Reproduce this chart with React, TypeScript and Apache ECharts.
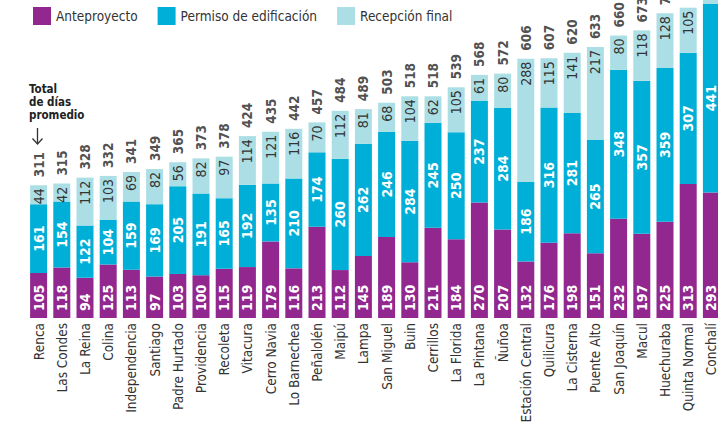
import React, { useEffect, useRef } from "react";
import * as echarts from "echarts";

const categories = [
  "Renca", "Las Condes", "La Reina", "Colina", "Independencia", "Santiago",
  "Padre Hurtado", "Providencia", "Recoleta", "Vitacura", "Cerro Navia",
  "Lo Barnechea", "Peñalolén", "Maipú", "Lampa", "San Miguel", "Buin",
  "Cerrillos", "La Florida", "La Pintana", "Ñuñoa", "Estación Central",
  "Quilicura", "La Cisterna", "Puente Alto", "San Joaquín", "Macul",
  "Huechuraba", "Quinta Normal", "Conchalí",
];
const anteproyecto = [105, 118, 94, 125, 113, 97, 103, 100, 115, 119, 179, 116, 213, 112, 145, 189, 130, 211, 184, 270, 207, 132, 176, 198, 151, 232, 197, 225, 313, 293];
const permiso = [161, 154, 122, 104, 159, 169, 205, 191, 165, 192, 135, 210, 174, 260, 262, 246, 284, 245, 250, 237, 284, 186, 316, 281, 265, 348, 357, 359, 307, 441];
const recepcion = [44, 42, 112, 103, 69, 82, 56, 82, 97, 114, 121, 116, 70, 112, 81, 68, 104, 62, 105, 61, 80, 288, 115, 141, 217, 80, 118, 128, 105, 90];
const totals = [311, 315, 328, 332, 341, 349, 365, 373, 378, 424, 435, 442, 457, 484, 489, 503, 518, 518, 539, 568, 572, 606, 607, 620, 633, 660, 673, 712, 725, 824];

const FONT = "'Liberation Sans Narrow', 'DejaVu Sans Condensed', 'Roboto', sans-serif";
const PURPLE = "#92278f";
const BLUE = "#00afd7";
const LIGHT = "#acdfe5";

export default function App() {
  const ref = useRef<HTMLDivElement>(null);
  useEffect(() => {
    if (!ref.current) return;
    const chart = echarts.init(ref.current, undefined, { renderer: "svg" });
    const stackTops = categories.map((_, i) => anteproyecto[i] + permiso[i] + recepcion[i]);
    chart.setOption({
      animation: false,
      textStyle: { fontFamily: FONT },
      legend: {
        left: 33,
        top: 7,
        padding: 0,
        itemWidth: 18,
        itemHeight: 18,
        itemGap: 20,
        icon: "rect",
        textStyle: { fontFamily: FONT, fontSize: 13.5, color: "#333" },
        data: ["Anteproyecto", "Permiso de edificación", "Recepción final"],
      },
      grid: { left: 27, top: 0, width: 696, height: 318, outerBoundsMode: "none", containLabel: false },
      xAxis: {
        type: "category",
        data: categories,
        axisLine: { show: false },
        axisTick: { show: false },
        axisLabel: {
          interval: 0,
          rotate: 90,
          margin: 5,
          fontFamily: FONT,
          fontSize: 13.5,
          color: "#333",
        },
      },
      yAxis: { type: "value", min: 0, max: 743, show: false, splitLine: { show: false } },
      graphic: [
        {
          type: "text",
          left: 29,
          top: 82,
          style: {
            text: "Total\nde días\npromedio",
            font: `bold 11.5px ${FONT}`,
            lineHeight: 13,
            fill: "#222",
          },
        },
        { type: "line", shape: { x1: 37.5, y1: 128, x2: 37.5, y2: 144 }, style: { stroke: "#333", lineWidth: 1.3 } },
        { type: "polyline", shape: { points: [[32.5, 138.5], [37.5, 144], [42.5, 138.5]] }, style: { stroke: "#333", lineWidth: 1.3, fill: "none" } },
      ],
      series: [
        {
          name: "Anteproyecto",
          type: "bar",
          stack: "t",
          barWidth: 17,
          clip: false,
          data: anteproyecto,
          itemStyle: { color: PURPLE },
          label: {
            show: true,
            position: "insideBottom",
            distance: 7,
            rotate: 90,
            align: "left",
            verticalAlign: "middle",
            color: "#fff",
            fontWeight: "bold",
            fontSize: 14,
            fontFamily: FONT,
          },
        },
        {
          name: "Permiso de edificación",
          type: "bar",
          stack: "t",
          barWidth: 17,
          clip: false,
          data: permiso,
          itemStyle: { color: BLUE },
          label: {
            show: true,
            position: "inside",
            rotate: 90,
            align: "center",
            verticalAlign: "middle",
            color: "#fff",
            fontWeight: "bold",
            fontSize: 14,
            fontFamily: FONT,
          },
        },
        {
          name: "Recepción final",
          type: "bar",
          stack: "t",
          barWidth: 17,
          clip: false,
          data: recepcion,
          itemStyle: { color: LIGHT },
          label: {
            show: true,
            position: "insideTop",
            distance: 3,
            rotate: 90,
            align: "right",
            verticalAlign: "middle",
            color: "#333",
            fontSize: 14,
            fontFamily: FONT,
          },
        },
        {
          name: "Total",
          type: "scatter",
          symbolSize: 0,
          clip: false,
          data: stackTops,
          silent: true,
          label: {
            show: true,
            position: "top",
            distance: 8,
            rotate: 90,
            align: "left",
            verticalAlign: "middle",
            color: "#222",
            fontWeight: "bold",
            fontSize: 13.5,
            fontFamily: FONT,
            formatter: (p: any) => String(totals[p.dataIndex]),
          },
        },
      ],
    });
    return () => chart.dispose();
  }, []);
  return (
    <div style={{ position: "fixed", left: 0, top: 0, width: 718, height: 426, overflow: "hidden", background: "#fff" }}>
      <div ref={ref} style={{ width: 760, height: 426 }} />
    </div>
  );
}
